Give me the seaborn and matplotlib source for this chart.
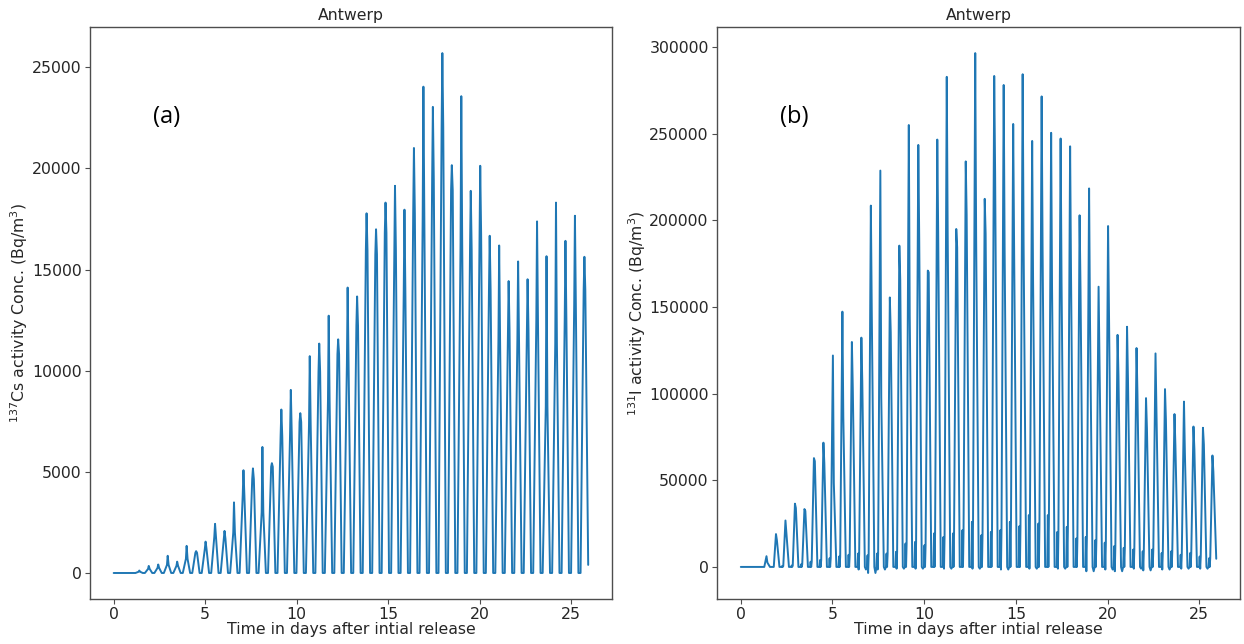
import numpy as np
import pandas as pd
import matplotlib
matplotlib.use("Agg")
import matplotlib.pyplot as plt
import seaborn as sns

# Semidiurnal tidal timing (days): first concentration peak and M2 period (12.42 h)
FIRST_PEAK_DAY = 1.40
TIDAL_PERIOD = 0.5175
END_DAY = 25.93

# 137Cs at Antwerp (Bq/m3): per tidal cycle, spike maximum and the level around it
cs_peak = [120, 350, 420, 850, 560, 1340, 1080, 1550, 2430, 2080,
           3490, 5080, 5170, 6230, 5430, 8080, 9050, 7900, 10720, 11340,
           12720, 11550, 14110, 13670, 17780, 16990, 18310, 19140, 17960, 21010,
           24040, 23040, 25700, 20160, 23570, 18890, 20130, 16670, 16190, 14430,
           15400, 14520, 17380, 15660, 18310, 16420, 17660, 15630]
cs_shoulder = [60, 200, 250, 400, 350, 700, 1000, 1200, 1800, 1700,
               2000, 3850, 4640, 3000, 5250, 6760, 6930, 7460, 7370, 9930,
               8500, 10810, 10370, 12220, 15930, 15750, 16810, 15930, 13900, 17780,
               17520, 19460, 22010, 18930, 16280, 16000, 16720, 14000, 11520, 12000,
               11500, 12000, 12500, 8250, 11340, 12580, 13280, 13990]
cs_end = 400

# 131I at Antwerp (Bq/m3): spike maximum, level after it, low bump before the rise, trough
i_peak = [6200, 18950, 26800, 36500, 33400, 62800, 71700, 122000, 147300, 129800,
          132300, 208500, 228700, 155500, 185400, 255000, 243500, 171000, 246600, 282800,
          195000, 234000, 296500, 212400, 283300, 278100, 255600, 284300, 245800, 271500,
          250500, 247200, 242700, 202900, 218400, 161700, 196700, 133900, 138600, 126300,
          97400, 123200, 102600, 88200, 95400, 81000, 80300, 64300]
i_shoulder = [2500, 15500, 19600, 34000, 32300, 61000, 60000, 48400, 86500, 103000,
              107000, 147300, 97900, 135300, 165800, 145200, 189500, 170000, 192600, 192600,
              184400, 203000, 190100, 192200, 227200, 184000, 185000, 187000, 165000, 185000,
              160000, 165000, 168500, 160300, 141700, 120000, 146900, 110000, 108800, 100000,
              80000, 90000, 85000, 70000, 65500, 68000, 70700, 55000]
i_foot = [0, 0, 500, 800, 1500, 3000, 4000, 5000, 6000, 7000,
          7700, 6700, 7700, 7700, 8700, 13500, 14400, 12500, 19300, 17300,
          19300, 21200, 26000, 18300, 20200, 21200, 26000, 23500, 29900, 25000,
          29900, 20200, 23100, 16400, 17300, 15400, 14000, 12000, 11000, 10000,
          9000, 10000, 8000, 9000, 7000, 8000, 6000, 5000]
i_low = [0, 0, 0, 0, 0, 0, 0, 0, 0, 0,
         -1500, -3500, -1500, 0, -1000, 0, -1000, 0, 0, -1000,
         0, 0, -1000, 0, 0, -1500, 0, 0, -1000, 0,
         0, -1000, 0, 0, -2500, 0, -1500, -2500, 0, -1000,
         -2000, 0, -1500, 0, -1000, 0, -1000, 0]
i_end = 4700


def build_series(peaks, shoulders, end_value, feet=None, lows=None, lead_shoulder=False):
    """Assemble a time/value table from per-tide-cycle readings."""
    t, v = [0.0], [0.0]
    n = len(peaks)
    for k in range(n):
        tk = FIRST_PEAK_DAY + k * TIDAL_PERIOD
        t.append(tk - 0.21); v.append(0.0)
        if feet is not None:
            # flickering low-level bump ahead of the main rise
            t.append(tk - 0.18); v.append(feet[k])
            t.append(tk - 0.15); v.append(lows[k] if lows is not None else 0.0)
            t.append(tk - 0.12); v.append(feet[k])
        if lead_shoulder:
            t.append(tk - 0.04); v.append(shoulders[k])
        t.append(tk); v.append(peaks[k])
        t.append(tk + 0.05); v.append(shoulders[k])
        if k < n - 1:
            t.append(tk + 0.19); v.append(0.0)
            if lows is not None:
                t.append(tk + 0.25); v.append(lows[k])
    t.append(END_DAY); v.append(end_value)
    return pd.DataFrame({"day": t, "conc": v})


cs_df = build_series(cs_peak, cs_shoulder, cs_end, lead_shoulder=True)
i_df = build_series(i_peak, i_shoulder, i_end, feet=i_foot, lows=i_low)

sns.set_style("ticks")
plt.rcParams["font.family"] = ["DejaVu Sans"]
plt.rcParams["axes.edgecolor"] = "0.3"
plt.rcParams["xtick.color"] = "0.3"
plt.rcParams["ytick.color"] = "0.3"
plt.rcParams["text.color"] = "0.15"
plt.rcParams["axes.labelcolor"] = "0.15"

fig = plt.figure(figsize=(12.44, 6.44), dpi=100)
ax1 = fig.add_axes([0.0723, 0.0699, 0.4196, 0.888])
ax2 = fig.add_axes([0.5764, 0.0699, 0.4204, 0.888])

line_color = "#1f77b4"
fs = 11.3
for ax, df, ylabel, tag in [
    (ax1, cs_df, r"$^{137}$Cs activity Conc. (Bq/m$^3$)", "(a)"),
    (ax2, i_df, r"$^{131}$I activity Conc. (Bq/m$^3$)", "(b)"),
]:
    sns.lineplot(data=df, x="day", y="conc", ax=ax, color=line_color,
                 linewidth=1.4, estimator=None, sort=False)
    ax.set_title("Antwerp", fontsize=fs, pad=5)
    ax.set_xlabel("Time in days after intial release", fontsize=fs, labelpad=0)
    ax.set_ylabel(ylabel, fontsize=fs, labelpad=1)
    ax.tick_params(labelsize=fs, labelcolor="0.15", pad=2.5)
    ax.set_xticks([0, 5, 10, 15, 20, 25])
    ax.text(0.147, 0.843, tag, transform=ax.transAxes, fontsize=17,
            family=["Open Sans", "DejaVu Sans"], fontweight="medium",
            ha="center", va="center", color="black")
    for s in ax.spines.values():
        s.set_visible(True)
        s.set_linewidth(1.0)

fig.savefig("out.png", dpi=100)
